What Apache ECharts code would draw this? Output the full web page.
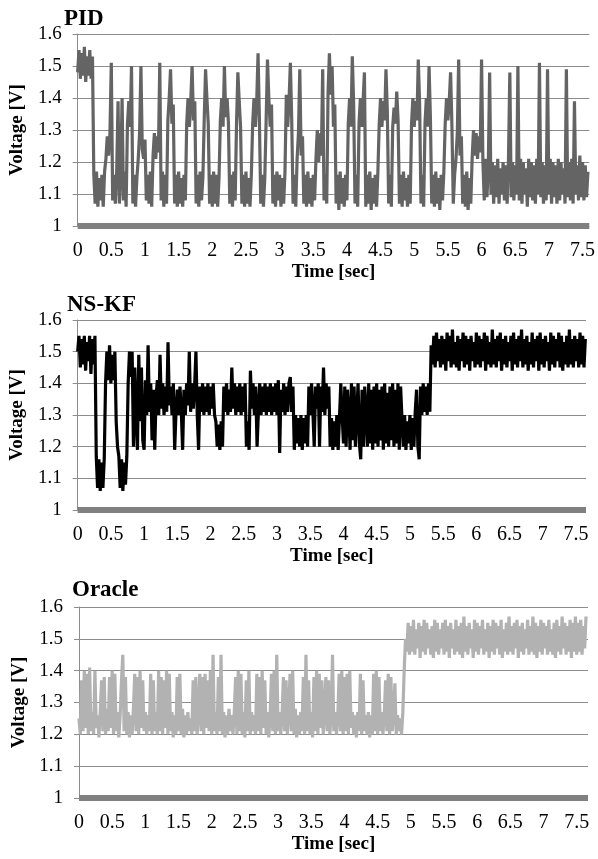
<!DOCTYPE html>
<html>
<head>
<meta charset="utf-8">
<title>Voltage traces: PID, NS-KF, Oracle</title>
<script src="https://cdn.jsdelivr.net/npm/echarts@6/dist/echarts.min.js"></script>
<style>
  html, body { margin: 0; padding: 0; background: #fff; }
  #chart { width: 598px; height: 859px; }
</style>
</head>
<body>
<div id="chart"></div>
<script>
// sample step of the traces [sec]
const DT = 0.02;

const timeTicks = [0, 0.5, 1, 1.5, 2, 2.5, 3, 3.5, 4, 4.5, 5, 5.5, 6, 6.5, 7, 7.5];
const voltTicks = [1, 1.1, 1.2, 1.3, 1.4, 1.5, 1.6];

const panelTitles = ['PID', 'NS-KF', 'Oracle'];

// PID voltage, one row = 0.5 s
const pidVolts = [
  1.48,1.55,1.46,1.54,1.47,1.56,1.45,1.53,1.47,1.55,1.46,1.53,1.16,1.07,1.17,1.06,1.15,1.08,1.16,1.06,1.17,1.21,1.28,1.22,1.29,
  1.51,1.08,1.16,1.07,1.17,1.39,1.07,1.16,1.40,1.08,1.17,1.06,1.32,1.39,1.31,1.50,1.07,1.16,1.06,1.15,1.21,1.29,1.50,1.24,1.21,
  1.27,1.08,1.16,1.07,1.17,1.06,1.22,1.29,1.21,1.28,1.23,1.51,1.08,1.17,1.06,1.16,1.07,1.33,1.40,1.49,1.32,1.38,1.07,1.16,1.06,
  1.17,1.07,1.15,1.06,1.16,1.08,1.32,1.40,1.31,1.39,1.50,1.33,1.39,1.07,1.16,1.06,1.17,1.08,1.15,1.33,1.49,1.40,1.32,1.07,1.16,
  1.06,1.17,1.07,1.16,1.06,1.15,1.33,1.40,1.31,1.50,1.34,1.40,1.32,1.07,1.16,1.06,1.17,1.08,1.32,1.48,1.39,1.31,1.07,1.16,1.06,
  1.17,1.07,1.15,1.06,1.16,1.32,1.40,1.31,1.39,1.54,1.33,1.07,1.16,1.06,1.15,1.33,1.52,1.40,1.31,1.38,1.07,1.16,1.06,1.17,1.08,
  1.16,1.06,1.15,1.07,1.17,1.41,1.31,1.39,1.51,1.33,1.07,1.16,1.06,1.21,1.29,1.49,1.22,1.28,1.07,1.16,1.06,1.17,1.07,1.15,1.06,
  1.16,1.08,1.21,1.30,1.20,1.29,1.22,1.49,1.08,1.16,1.07,1.42,1.54,1.41,1.50,1.31,1.38,1.07,1.16,1.05,1.17,1.07,1.15,1.06,1.16,
  1.08,1.32,1.40,1.31,1.53,1.38,1.07,1.16,1.06,1.32,1.40,1.31,1.39,1.48,1.06,1.16,1.07,1.17,1.05,1.15,1.07,1.16,1.06,1.17,1.32,
  1.40,1.31,1.39,1.33,1.49,1.36,1.07,1.16,1.06,1.31,1.37,1.32,1.42,1.33,1.07,1.16,1.06,1.17,1.08,1.15,1.06,1.16,1.07,1.32,1.40,
  1.31,1.39,1.33,1.52,1.38,1.07,1.16,1.06,1.32,1.40,1.31,1.50,1.34,1.07,1.16,1.06,1.17,1.07,1.15,1.05,1.16,1.08,1.17,1.32,1.40,
  1.33,1.39,1.48,1.31,1.07,1.16,1.21,1.29,1.52,1.22,1.28,1.07,1.16,1.06,1.17,1.05,1.15,1.07,1.21,1.30,1.22,1.29,1.21,1.28,1.23,
  1.52,1.20,1.08,1.21,1.09,1.18,1.48,1.10,1.20,1.07,1.19,1.09,1.21,1.07,1.18,1.10,1.20,1.08,1.19,1.07,1.21,1.48,1.09,1.20,1.08,
  1.19,1.10,1.50,1.08,1.21,1.07,1.20,1.10,1.18,1.06,1.21,1.09,1.20,1.08,1.19,1.07,1.21,1.10,1.51,1.09,1.20,1.07,1.19,1.08,1.49,
  1.10,1.21,1.07,1.20,1.09,1.19,1.07,1.21,1.08,1.20,1.10,1.18,1.07,1.49,1.09,1.20,1.08,1.21,1.07,1.39,1.10,1.19,1.08,1.22,1.09,
  1.20,1.08,1.19,1.09,1.17
];

// NS-KF voltage
const nskfVolts = [
  1.50,1.55,1.45,1.54,1.46,1.55,1.44,1.53,1.47,1.55,1.43,1.54,1.46,1.55,1.17,1.07,1.16,1.06,1.15,1.07,1.16,1.40,1.50,1.41,1.52,
  1.40,1.49,1.41,1.50,1.28,1.20,1.17,1.07,1.16,1.06,1.15,1.08,1.17,1.40,1.50,1.42,1.50,1.20,1.45,1.30,1.19,1.49,1.28,1.45,1.22,
  1.19,1.41,1.30,1.52,1.31,1.40,1.22,1.38,1.19,1.36,1.41,1.30,1.49,1.32,1.40,1.30,1.39,1.31,1.53,1.33,1.39,1.30,1.40,1.19,1.31,
  1.38,1.30,1.39,1.31,1.19,1.38,1.30,1.40,1.33,1.50,1.31,1.40,1.32,1.39,1.50,1.30,1.19,1.39,1.31,1.40,1.30,1.39,1.31,1.40,1.30,
  1.39,1.32,1.40,1.30,1.28,1.20,1.27,1.19,1.28,1.20,1.39,1.31,1.40,1.30,1.38,1.31,1.45,1.32,1.40,1.30,1.39,1.31,1.40,1.30,1.39,
  1.31,1.40,1.20,1.28,1.19,1.44,1.32,1.40,1.30,1.39,1.20,1.31,1.40,1.30,1.39,1.31,1.40,1.30,1.39,1.31,1.40,1.30,1.39,1.31,1.40,
  1.30,1.41,1.18,1.38,1.31,1.40,1.30,1.39,1.31,1.40,1.42,1.31,1.39,1.19,1.30,1.21,1.29,1.20,1.30,1.19,1.29,1.21,1.30,1.20,1.39,
  1.30,1.40,1.31,1.20,1.39,1.32,1.40,1.20,1.39,1.31,1.45,1.30,1.40,1.32,1.39,1.20,1.29,1.19,1.28,1.20,1.30,1.19,1.29,1.40,1.30,
  1.21,1.39,1.20,1.38,1.31,1.19,1.40,1.22,1.39,1.20,1.30,1.40,1.21,1.16,1.38,1.20,1.39,1.31,1.20,1.40,1.21,1.38,1.19,1.39,1.21,
  1.40,1.20,1.38,1.22,1.39,1.19,1.40,1.21,1.37,1.20,1.39,1.22,1.40,1.20,1.38,1.21,1.40,1.19,1.39,1.29,1.20,1.30,1.19,1.28,1.21,
  1.30,1.19,1.29,1.20,1.31,1.38,1.20,1.16,1.39,1.30,1.40,1.31,1.39,1.30,1.40,1.31,1.52,1.46,1.55,1.45,1.56,1.47,1.54,1.45,1.55,
  1.46,1.54,1.44,1.56,1.47,1.55,1.45,1.57,1.46,1.53,1.45,1.55,1.44,1.54,1.47,1.56,1.45,1.55,1.46,1.54,1.44,1.55,1.47,1.53,1.45,
  1.56,1.46,1.55,1.45,1.54,1.47,1.56,1.44,1.55,1.46,1.53,1.45,1.57,1.46,1.54,1.45,1.55,1.47,1.56,1.44,1.54,1.46,1.55,1.45,1.53,
  1.47,1.55,1.44,1.56,1.46,1.54,1.45,1.55,1.47,1.57,1.45,1.54,1.46,1.55,1.44,1.53,1.46,1.56,1.45,1.54,1.47,1.55,1.44,1.56,1.46,
  1.54,1.45,1.55,1.47,1.53,1.44,1.56,1.46,1.55,1.45,1.54,1.47,1.56,1.45,1.55,1.44,1.53,1.46,1.55,1.45,1.57,1.46,1.54,1.45,1.55,
  1.47,1.54,1.45,1.56,1.46,1.55,1.45,1.54
];

// Oracle voltage
const oracleVolts = [
  1.25,1.20,1.37,1.21,1.40,1.22,1.39,1.20,1.41,1.21,1.27,1.20,1.40,1.22,1.26,1.19,1.27,1.37,1.21,1.38,1.20,1.28,1.21,1.38,1.22,
  1.40,1.20,1.39,1.21,1.27,1.19,1.26,1.37,1.45,1.21,1.38,1.20,1.27,1.19,1.26,1.20,1.28,1.39,1.21,1.38,1.20,1.40,1.22,1.37,1.21,
  1.27,1.20,1.26,1.21,1.39,1.20,1.37,1.21,1.27,1.20,1.40,1.21,1.38,1.20,1.37,1.22,1.40,1.20,1.39,1.21,1.27,1.19,1.26,1.20,1.38,
  1.21,1.39,1.20,1.28,1.19,1.26,1.20,1.27,1.21,1.25,1.20,1.37,1.21,1.38,1.20,1.27,1.39,1.21,1.38,1.20,1.39,1.22,1.37,1.21,1.40,
  1.20,1.45,1.21,1.27,1.20,1.38,1.21,1.45,1.20,1.27,1.19,1.26,1.20,1.28,1.21,1.26,1.20,1.27,1.38,1.20,1.40,1.21,1.39,1.20,1.27,
  1.19,1.37,1.21,1.40,1.20,1.27,1.21,1.26,1.20,1.39,1.21,1.38,1.20,1.40,1.22,1.37,1.20,1.27,1.19,1.26,1.39,1.21,1.40,1.20,1.45,
  1.21,1.27,1.20,1.26,1.38,1.21,1.37,1.20,1.27,1.39,1.21,1.40,1.20,1.28,1.19,1.26,1.20,1.27,1.21,1.38,1.20,1.45,1.21,1.37,1.20,
  1.27,1.19,1.38,1.21,1.40,1.20,1.39,1.22,1.37,1.20,1.27,1.38,1.21,1.37,1.20,1.26,1.45,1.21,1.27,1.20,1.26,1.39,1.21,1.40,1.20,
  1.38,1.21,1.39,1.20,1.40,1.22,1.27,1.20,1.26,1.19,1.27,1.21,1.39,1.20,1.37,1.21,1.26,1.20,1.27,1.19,1.26,1.20,1.39,1.21,1.40,
  1.20,1.38,1.21,1.27,1.20,1.26,1.37,1.21,1.39,1.20,1.38,1.21,1.27,1.36,1.20,1.26,1.21,1.25,1.20,1.27,1.40,1.50,1.46,1.55,1.45,
  1.54,1.46,1.56,1.45,1.53,1.47,1.55,1.44,1.54,1.46,1.56,1.45,1.55,1.47,1.53,1.45,1.54,1.44,1.56,1.46,1.55,1.45,1.53,1.47,1.55,
  1.45,1.56,1.46,1.54,1.44,1.55,1.47,1.53,1.45,1.56,1.46,1.54,1.45,1.55,1.44,1.57,1.46,1.54,1.45,1.55,1.47,1.53,1.44,1.56,1.46,
  1.55,1.45,1.54,1.47,1.56,1.45,1.53,1.46,1.55,1.44,1.54,1.46,1.56,1.45,1.55,1.47,1.54,1.45,1.56,1.44,1.53,1.46,1.55,1.45,1.57,
  1.46,1.54,1.45,1.55,1.47,1.56,1.44,1.54,1.46,1.55,1.45,1.53,1.47,1.56,1.45,1.54,1.46,1.57,1.45,1.55,1.44,1.54,1.46,1.56,1.45,
  1.55,1.47,1.54,1.45,1.56,1.46,1.53,1.45,1.55,1.44,1.56,1.46,1.54,1.45,1.57,1.47,1.55,1.45,1.54,1.46,1.56,1.44,1.55,1.46,1.57,
  1.45,1.55,1.46,1.56,1.45,1.54,1.47,1.57
];

const FONT = '"Liberation Serif", "Times New Roman", serif';
const GRID_GRAY = '#8c8c8c';

// layout of the three stacked panels
const panels = [
  { volts: pidVolts,    color: '#646464', grid: { left: 75, top: 34,  width: 517, height: 192 }, xMax: 7.6,  title: { left: 64, top: 8 } },
  { volts: nskfVolts,   color: '#000000', grid: { left: 74, top: 320, width: 512, height: 190 }, xMax: 7.65, title: { left: 67, top: 294 } },
  { volts: oracleVolts, color: '#b2b2b2', grid: { left: 79, top: 607, width: 509, height: 191 }, xMax: 7.67, title: { left: 72, top: 579 } }
];

function toPoints(volts) {
  return volts.map((v, i) => [+(i * DT).toFixed(2), v]);
}

function initChart() {
  const el = document.getElementById('chart');
  const chart = echarts.init(el, null, { renderer: 'canvas' });

  const option = {
    animation: false,
    backgroundColor: '#fff',
    title: panels.map((p, k) => ({
      text: panelTitles[k],
      left: p.title.left,
      top: p.title.top,
      padding: 0,
      textStyle: { fontFamily: FONT, fontWeight: 'bold', fontSize: 23, color: '#000' }
    })),
    grid: panels.map(p => Object.assign({ containLabel: false }, p.grid)),
    xAxis: panels.map((p, k) => ({
      gridIndex: k,
      type: 'value',
      min: timeTicks[0],
      max: p.xMax,
      interval: timeTicks[1] - timeTicks[0],
      name: 'Time [sec]',
      nameLocation: 'middle',
      nameGap: 37,
      nameTextStyle: { fontFamily: FONT, fontWeight: 'bold', fontSize: 19, color: '#000' },
      axisLine: { show: true, onZero: false, lineStyle: { color: '#808080', width: 6, cap: 'butt' } },
      axisTick: { show: false },
      splitLine: { show: false },
      axisLabel: {
        fontFamily: FONT, fontSize: 20, color: '#000', margin: 15,
        showMaxLabel: false,
        formatter: v => (timeTicks.indexOf(+v.toFixed(2)) >= 0 ? String(+v.toFixed(2)) : '')
      }
    })),
    yAxis: panels.map((p, k) => ({
      gridIndex: k,
      type: 'value',
      min: voltTicks[0],
      max: voltTicks[voltTicks.length - 1],
      interval: 0.1,
      name: 'Voltage [V]',
      nameLocation: 'middle',
      nameGap: 49,
      nameRotate: 90,
      nameTextStyle: { fontFamily: FONT, fontWeight: 'bold', fontSize: 19, color: '#000' },
      axisLine: { show: true, lineStyle: { color: GRID_GRAY, width: 1 } },
      axisTick: { show: true, length: 5, lineStyle: { color: GRID_GRAY } },
      axisLabel: {
        fontFamily: FONT, fontSize: 19, color: '#000', margin: 16,
        formatter: v => String(+v.toFixed(1))
      },
      splitLine: { show: true, lineStyle: { color: GRID_GRAY, width: 1 } }
    })),
    series: panels.map((p, k) => ({
      name: panelTitles[k],
      type: 'line',
      xAxisIndex: k,
      yAxisIndex: k,
      data: toPoints(p.volts),
      showSymbol: false,
      smooth: false,
      lineStyle: { color: p.color, width: 3.2, join: 'bevel' },
      itemStyle: { color: p.color },
      z: 3
    }))
  };

  chart.setOption(option);
  window.addEventListener('resize', () => chart.resize());
}

initChart();
</script>
</body>
</html>
